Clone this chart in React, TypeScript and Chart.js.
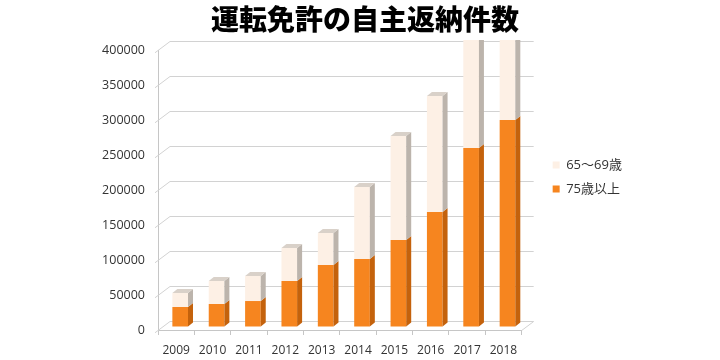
import React, { useEffect, useRef } from 'react';
import { Chart, registerables } from 'chart.js';

Chart.register(...registerables);

const chartTitle = '運転免許の自主返納件数';
const years = ['2009', '2010', '2011', '2012', '2013', '2014', '2015', '2016', '2017', '2018'];
const seriesOlderLabel = '75歳以上';
const seriesYoungerLabel = '65〜69歳';
const seriesOlder = [28600, 32900, 37100, 65700, 88600, 97100, 124300, 164300, 255700, 295700];
const seriesYounger = [20000, 32800, 35800, 47200, 45700, 102900, 148600, 165700, 168000, 130000];
const yTickValues = [0, 50000, 100000, 150000, 200000, 250000, 300000, 350000, 400000];

// pseudo-3D geometry
const WALL_DX = 12;
const WALL_DY = 9;
const BAR_TX = 4;
const BAR_TY = -3;
const SIDE_DX = 5;
const SIDE_DY = 4;

const ORANGE = '#F6851F';
const ORANGE_SIDE = '#C4620C';
const CREAM = '#FDF0E5';
const CREAM_SIDE = '#BCB4AC';
const CREAM_TOP = '#D9D1C9';
const GRID = '#d2d2d2';
const AXIS = '#c6c6c6';
const TEXT = '#333333';

const depthPlugin = {
  id: 'depth3d',
  beforeDatasetsDraw(chart: any) {
    const { ctx, chartArea: a, scales } = chart;
    const ys = scales.y;
    ctx.save();
    ctx.strokeStyle = GRID;
    ctx.lineWidth = 1;
    ys.ticks.forEach((t: any) => {
      const py = Math.round(ys.getPixelForValue(t.value)) + 0.5;
      ctx.beginPath();
      ctx.moveTo(a.left - 3, py + 2.25);
      ctx.lineTo(a.left + WALL_DX, py - WALL_DY);
      ctx.lineTo(a.right + WALL_DX, py - WALL_DY);
      ctx.stroke();
    });
    ctx.beginPath();
    ctx.moveTo(a.right, a.bottom + 0.5);
    ctx.lineTo(a.right + WALL_DX, a.bottom - WALL_DY + 0.5);
    ctx.stroke();
    ctx.restore();

    ctx.save();
    ctx.beginPath();
    ctx.rect(0, a.top - WALL_DY - 1, chart.width, chart.height);
    ctx.clip();
    ctx.translate(BAR_TX, BAR_TY);
  },
  afterDatasetsDraw(chart: any) {
    const { ctx } = chart;
    const n = chart.data.datasets.length;
    chart.data.datasets.forEach((ds: any, di: number) => {
      const meta = chart.getDatasetMeta(di);
      const isTop = di === n - 1;
      meta.data.forEach((bar: any) => {
        const { x, y, base, width } = bar.getProps(['x', 'y', 'base', 'width'], true);
        const l = x - width / 2;
        const r = x + width / 2;
        ctx.fillStyle = ds.sideColor;
        ctx.beginPath();
        ctx.moveTo(r, y);
        ctx.lineTo(r + SIDE_DX, y - SIDE_DY);
        ctx.lineTo(r + SIDE_DX, base - SIDE_DY);
        ctx.lineTo(r, base);
        ctx.closePath();
        ctx.fill();
        if (isTop) {
          ctx.fillStyle = ds.topColor;
          ctx.beginPath();
          ctx.moveTo(l, y);
          ctx.lineTo(l + SIDE_DX, y - SIDE_DY);
          ctx.lineTo(r + SIDE_DX, y - SIDE_DY);
          ctx.lineTo(r, y);
          ctx.closePath();
          ctx.fill();
        }
      });
    });
    ctx.restore();
  },
};

export default function App() {
  const canvasRef = useRef<HTMLCanvasElement | null>(null);

  useEffect(() => {
    if (!canvasRef.current) return;
    const chart = new Chart(canvasRef.current, {
      type: 'bar',
      data: {
        labels: years,
        datasets: [
          {
            label: seriesOlderLabel,
            data: seriesOlder,
            backgroundColor: ORANGE,
            borderWidth: 0,
            clip: false,
            sideColor: ORANGE_SIDE,
            topColor: ORANGE_SIDE,
          } as any,
          {
            label: seriesYoungerLabel,
            data: seriesYounger,
            backgroundColor: CREAM,
            borderWidth: 0,
            clip: false,
            sideColor: CREAM_SIDE,
            topColor: CREAM_TOP,
          } as any,
        ],
      },
      options: {
        animation: false,
        responsive: false,
        devicePixelRatio: 1,
        layout: { padding: { left: 100, right: 90, top: 0, bottom: 0 } },
        datasets: { bar: { barPercentage: 0.43, categoryPercentage: 1 } },
        plugins: {
          title: {
            display: true,
            text: chartTitle,
            color: '#000',
            font: { family: "'Noto Sans CJK JP'", size: 28, weight: '900' },
            padding: { top: 3, bottom: 13.4 },
          },
          legend: {
            position: 'right',
            align: 'start',
            reverse: true,
            title: { display: true, text: '', padding: { top: 133, bottom: 0 }, font: { size: 12 } },
            labels: {
              boxWidth: 7,
              boxHeight: 7,
              padding: 11,
              color: TEXT,
              font: { family: "'Open Sans', 'Noto Sans CJK JP'", size: 13 },
            },
          },
          tooltip: { enabled: false },
        },
        scales: {
          x: {
            stacked: true,
            grid: { display: true, drawOnChartArea: false, drawTicks: true, tickLength: 5, color: AXIS },
            border: { display: true, color: AXIS },
            ticks: { color: TEXT, padding: 8, font: { family: "'Open Sans'", size: 12 }, maxRotation: 0 },
            afterFit: (s: any) => { s.height = 30; },
          },
          y: {
            stacked: true,
            min: 0,
            max: 400000,
            grid: { display: true, drawOnChartArea: false, drawTicks: false },
            border: { display: true, color: AXIS },
            afterBuildTicks: (axis: any) => { axis.ticks = yTickValues.map((v) => ({ value: v })); },
            ticks: {
              color: TEXT,
              padding: 13,
              font: { family: "'Open Sans'", size: 12.5 },
              callback: (v: any) => String(v),
            },
            afterFit: (s: any) => { s.width = 58; },
          },
          gap: {
            type: 'linear',
            position: 'right',
            display: true,
            grid: { display: false },
            border: { display: false },
            ticks: { display: false },
            afterFit: (s: any) => { s.width = 20; },
          },
        },
      } as any,
      plugins: [depthPlugin],
    });
    return () => chart.destroy();
  }, []);

  return (
    <div style={{ position: 'fixed', left: 0, top: 0, width: 720, height: 360, background: '#fff' }}>
      <canvas ref={canvasRef} width={720} height={360} />
    </div>
  );
}
